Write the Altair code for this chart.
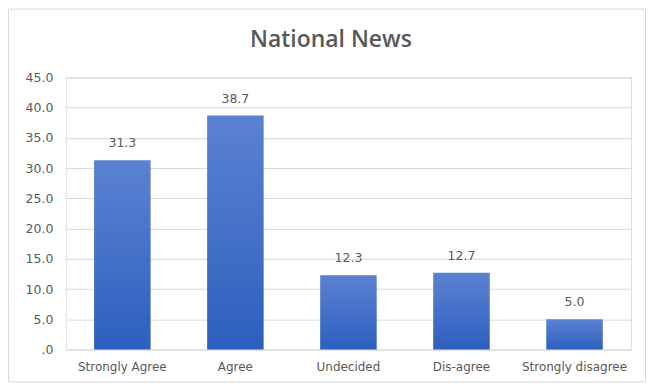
import altair as alt
import pandas as pd

categories = ["Strongly Agree", "Agree", "Undecided", "Dis-agree", "Strongly disagree"]
values = [31.3, 38.7, 12.3, 12.7, 5.0]
y_ticks = [0, 5, 10, 15, 20, 25, 30, 35, 40, 45]
title_text = "National News"

df = pd.DataFrame({"cat": categories, "val": values})

W, H = 567, 273
grey = "#595959"
font = "DejaVu Sans"

x = alt.X("cat:N", sort=categories, title=None,
          scale=alt.Scale(paddingInner=0.5, paddingOuter=0.25),
          axis=alt.Axis(labelAngle=0, labelFontSize=12, labelColor=grey, labelFont=font,
                        labelPadding=12, ticks=False, domain=False, grid=False))
y = alt.Y("val:Q", title=None,
          scale=alt.Scale(domain=[0, 45], nice=False, zero=True),
          axis=alt.Axis(values=y_ticks, labelOverlap=False, tickCount=10,
                        labelExpr="datum.value == 0 ? '.0' : format(datum.value, '.1f')",
                        labelFontSize=12.5, labelColor=grey, labelFont=font, labelPadding=13,
                        ticks=False, domain=False, grid=True, gridColor="#d9d9d9", gridWidth=1))

bars = alt.Chart(df).mark_bar(
    color=alt.Gradient(gradient="linear",
                       stops=[alt.GradientStop(color="#5b82d2", offset=0),
                              alt.GradientStop(color="#2d5fbf", offset=1)],
                       x1=0, x2=0, y1=0, y2=1)
).encode(x=x, y=y)

labels = alt.Chart(df).mark_text(dy=-10, baseline="bottom", fontSize=12.5, color=grey, font=font).encode(
    x=alt.X("cat:N", sort=categories),
    y="val:Q",
    text=alt.Text("val:Q", format=".1f"),
)

one = df[df["cat"] == "Agree"]

border = alt.Chart(one).mark_rect(fill=None, stroke="#d9d9d9", strokeWidth=1).encode(
    x=alt.value(-57.5), x2=alt.value(581.5), y=alt.value(-68.5), y2=alt.value(305.5)
)

title = alt.Chart(one).mark_text(fontSize=23, font="Open Sans", fontWeight=600, color=grey,
                                 baseline="middle", align="center").encode(
    x=alt.value(266), y=alt.value(-37), text=alt.value(title_text)
)

chart = alt.layer(bars, labels, border, title).properties(
    width=W, height=H,
    padding={"left": 58, "top": 69, "right": 15, "bottom": 33},
    autosize=alt.AutoSizeParams(type="none"),
).configure_view(stroke=None).configure(background="white")

chart.save("out.html", embed_options={"renderer": "svg", "actions": False})
